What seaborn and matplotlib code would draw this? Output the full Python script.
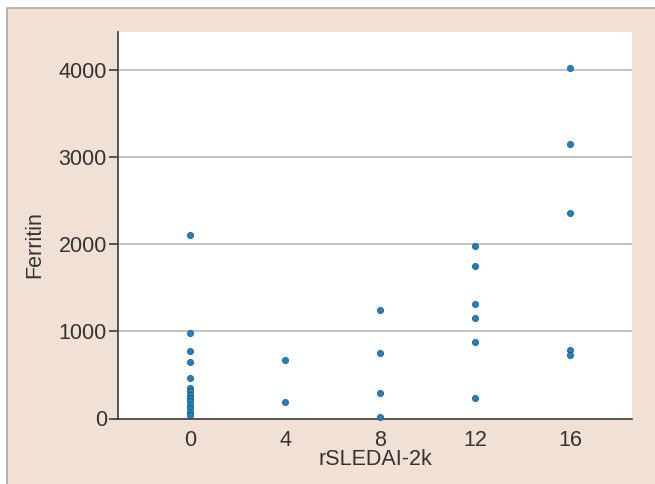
import seaborn as sns
import pandas as pd
import matplotlib.pyplot as plt
from matplotlib.patches import Rectangle
from matplotlib.lines import Line2D

# rSLEDAI-2k score groups and ferritin readings
sledai_0 = [2110, 980, 770, 650, 460, 350, 310, 270, 240, 200, 160, 120, 80, 45]
sledai_4 = [672, 189]
sledai_8 = [1246, 752, 296, 14]
sledai_12 = [1984, 1747, 1315, 1154, 875, 239]
sledai_16 = [4024, 3148, 2363, 786, 729]

groups = {0: sledai_0, 4: sledai_4, 8: sledai_8, 12: sledai_12, 16: sledai_16}
rows = [(k, v) for k, vals in groups.items() for v in vals]
df = pd.DataFrame(rows, columns=['rSLEDAI-2k', 'Ferritin'])

x_ticks = [0, 4, 8, 12, 16]
y_ticks = [0, 1000, 2000, 3000, 4000]

sns.set_style('white')
plt.rcParams['font.family'] = ['Liberation Sans', 'DejaVu Sans']

beige = '#f0e1d4'
text_col = '#333333'

fig = plt.figure(figsize=(6.55, 4.84), dpi=100, facecolor='white')
# beige panel with a grey frame on top and left only
x0, y1 = 6.5 / 655, 1 - 8 / 484
fig.patches.append(Rectangle((x0, 0), 1 - x0, y1, transform=fig.transFigure,
                             facecolor=beige, edgecolor='none', zorder=-5))
fig.add_artist(Line2D([x0, x0, 1], [0, y1, y1], transform=fig.transFigure,
                      color='#a8a8a8', linewidth=1.2, zorder=-4))

ax = fig.add_axes([118 / 655, 1 - 418.5 / 484, 514 / 655, 386.8 / 484])
ax.set_facecolor('white')

for yv in y_ticks[1:]:
    ax.axhline(yv, color='#b3b3b3', linewidth=1.1, zorder=1)

sns.scatterplot(data=df, x='rSLEDAI-2k', y='Ferritin', ax=ax, color='#2180bf',
                edgecolor='#16587f', linewidth=0.5, s=20, zorder=3, clip_on=False)

ax.set_xlim(-3.03, 18.6)
ax.set_ylim(0, 4440)
ax.set_xticks(x_ticks)
ax.set_yticks(y_ticks)

for side in ['top', 'right']:
    ax.spines[side].set_visible(False)
for side in ['left', 'bottom']:
    ax.spines[side].set_color('#3a3a3a')
    ax.spines[side].set_linewidth(1.2)

ax.tick_params(axis='x', length=0, pad=8, labelsize=15.5, labelcolor=text_col)
ax.tick_params(axis='y', length=6.5, width=1.2, color='#3a3a3a', pad=1.5,
               labelsize=15.5, labelcolor=text_col, left=True)

ax.set_xlabel('rSLEDAI-2k', fontsize=15.5, color=text_col, labelpad=-1)
ax.set_ylabel('Ferritin', fontsize=15.5, color=text_col)
ax.yaxis.set_label_coords(-0.142, 0.449)

fig.savefig('out.png', dpi=100, facecolor=fig.get_facecolor())
